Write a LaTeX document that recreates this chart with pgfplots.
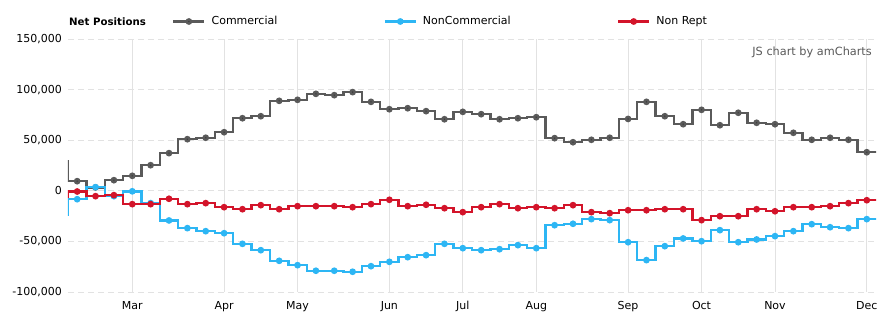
\documentclass[border=0pt]{standalone}
\usepackage{pgfplots}
\pgfplotsset{compat=1.18}
\usepackage{pgfplotstable}
\usepackage{fontspec}
\setmainfont{DejaVu Sans}
\definecolor{comm}{HTML}{5A5A5A}
\definecolor{commdot}{HTML}{3A3A3A}
\definecolor{noncomm}{HTML}{2DB6F4}
\definecolor{nonrept}{HTML}{D3142A}
\definecolor{gridc}{HTML}{E2E2E2}

\pgfplotstableread{
x y
-1 29000
0 9500
1 3300
2 10500
3 14800
4 25300
5 37200
6 51000
7 52400
8 57900
9 71700
10 73700
11 88900
12 89900
13 95800
14 94500
15 97500
16 87900
17 80600
18 81600
19 78700
20 70700
21 78000
22 75700
23 70700
24 71700
25 72700
26 52000
27 48000
28 50400
29 52400
30 71000
31 87900
32 73700
33 65800
34 80000
35 64800
36 77100
37 67200
38 65800
39 57300
40 50400
41 52400
42 50400
43 38100
44 38100
}\commercial

\pgfplotstableread{
x y
-1 -23400
0 -8300
1 3600
2 -5300
3 -500
4 -12200
5 -29300
6 -36900
7 -39900
8 -41900
9 -52400
10 -58700
11 -69200
12 -73500
13 -79000
14 -79000
15 -80000
16 -74500
17 -70200
18 -65600
19 -63600
20 -52400
21 -56700
22 -58700
23 -57700
24 -53700
25 -56700
26 -34000
27 -32600
28 -28000
29 -29000
30 -50800
31 -68500
32 -54700
33 -47100
34 -49800
35 -38900
36 -50800
37 -48100
38 -44800
39 -39900
40 -33000
41 -36000
42 -36900
43 -28000
44 -28000
}\noncommercial

\pgfplotstableread{
x y
-1 -6300
0 -700
1 -5300
2 -4300
3 -13200
4 -13200
5 -7900
6 -13200
7 -12200
8 -16200
9 -18200
10 -14200
11 -18200
12 -15200
13 -15200
14 -15200
15 -16200
16 -13200
17 -8900
18 -15200
19 -13800
20 -17200
21 -21100
22 -16200
23 -13200
24 -17200
25 -16200
26 -17200
27 -14200
28 -21100
29 -22100
30 -19200
31 -19200
32 -18200
33 -18200
34 -29000
35 -25100
36 -25100
37 -18200
38 -20200
39 -16200
40 -16200
41 -15200
42 -12200
43 -9300
44 -9300
}\nonrept

\begin{document}
\begin{tikzpicture}
\begin{axis}[
  at={(0pt,0pt)}, anchor=south west,
  scale only axis, width=808pt, height=253pt,
  xmin=-0.5, xmax=43.5, ymin=-100000, ymax=150000,
  font=\fontsize{11}{13}\selectfont,
  axis line style={draw=none}, tick style={draw=none},
  major tick length=0pt,
  xtick={3,8,12,17,21,25,30,34,38,43},
  xticklabels={Mar,Apr,May,Jun,Jul,Aug,Sep,Oct,Nov,Dec},
  ytick={-100000,-50000,0,50000,100000,150000},
  scaled y ticks=false,
  yticklabels={{-100,000},{-50,000},{0},{50,000},{100,000},{150,000}},
  yticklabel style={anchor=east, inner sep=0pt, xshift=-6pt},
  xticklabel style={anchor=north, inner sep=0pt, yshift=-9pt},
  xmajorgrids, ymajorgrids,
  x grid style={gridc, line width=0.8pt},
  y grid style={gridc, dash pattern=on 6pt off 4pt, line width=0.8pt},
  clip marker paths=true,
  legend columns=3,
  legend style={at={(axis description cs:0,1)}, anchor=west, xshift=104pt, yshift=17.5pt,
    draw=none, fill=none, inner sep=0pt, column sep=0pt, row sep=0pt,
    nodes={inner sep=0pt, font=\fontsize{11}{13}\selectfont}},
  legend image code/.code={\draw[mark repeat=2,mark phase=2,#1] plot coordinates {(0pt,0pt)(15.5pt,0pt)(31pt,0pt)};},
]
\addplot[const plot mark mid, comm, line width=2.4pt, mark=*, mark size=2.1pt,
  mark options={solid, fill=commdot, draw=none}] table {\commercial};
\addlegendentry{\hspace*{6pt}\makebox[172pt][l]{Commercial}}
\addplot[const plot mark mid, noncomm, line width=2.4pt, mark=*, mark size=2.1pt,
  mark options={solid, fill=noncomm, draw=none}] table {\noncommercial};
\addlegendentry{\hspace*{6pt}\makebox[194pt][l]{NonCommercial}}
\addplot[const plot mark mid, nonrept, line width=2.4pt, mark=*, mark size=2.1pt,
  mark options={solid, fill=nonrept, draw=none}] table {\nonrept};
\addlegendentry{\hspace*{6pt}Non Rept}
\end{axis}
\node[anchor=west, inner sep=0pt, font=\fontsize{10.2}{12}\selectfont\bfseries] at (1pt,270.5pt) {Net Positions};
\node[anchor=east, inner sep=0pt, text=black!65, font=\fontsize{11.3}{13}\selectfont] at (804pt,240pt) {JS chart by amCharts};
\pgfresetboundingbox
\path[use as bounding box] (-68pt,-34pt) rectangle (819pt,292pt);
\end{tikzpicture}
\end{document}
